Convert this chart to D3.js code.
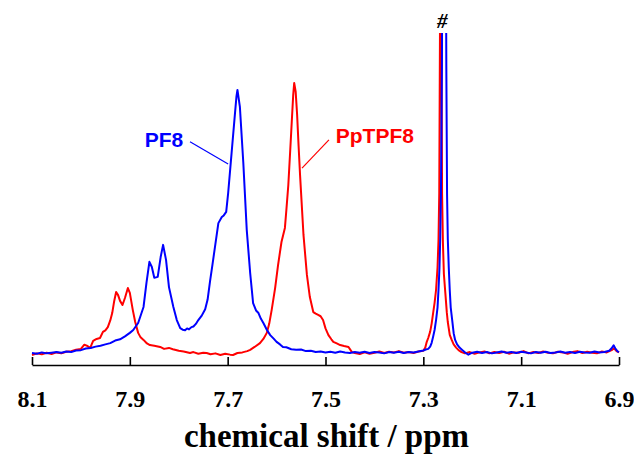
<!DOCTYPE html>
<html>
<head>
<meta charset="utf-8">
<script src="https://cdn.jsdelivr.net/npm/d3@7"></script>
<style>
  html, body { margin: 0; padding: 0; background: #fff; }
  svg { display: block; }
</style>
</head>
<body>
<svg id="chart" width="634" height="454"></svg>
<script>
// 1H NMR spectra (aromatic region), [chemical shift in ppm, intensity]
const pptpf8Spectrum = [
  [8.100,-0.3],[8.090,0.2],[8.080,-0.1],[8.070,0.4],[8.060,0.0],[8.050,0.5],[8.040,0.2],[8.030,0.7],
  [8.020,0.9],[8.010,1.3],[8.000,1.6],[7.993,2.9],[7.988,2.6],[7.981,1.9],[7.975,4.1],[7.968,4.7],
  [7.961,5.0],[7.955,6.9],[7.950,7.4],[7.945,8.4],[7.940,10.5],[7.936,12.8],[7.932,16.5],[7.928,19.4],
  [7.924,18.4],[7.920,16.6],[7.915,15.3],[7.910,17.5],[7.904,20.6],[7.900,19.1],[7.894,13.8],[7.889,10.0],
  [7.883,6.6],[7.878,5.2],[7.872,4.4],[7.865,3.3],[7.859,2.8],[7.850,2.6],[7.838,2.2],[7.830,1.6],
  [7.820,1.9],[7.812,1.5],[7.800,1.0],[7.790,0.8],[7.777,0.3],[7.770,0.6],[7.760,0.1],[7.750,0.4],
  [7.743,0.3],[7.735,-0.1],[7.725,0.2],[7.715,-0.3],[7.705,0.1],[7.695,-0.2],[7.689,-0.3],[7.680,0.3],
  [7.670,0.5],[7.660,0.9],[7.654,1.3],[7.645,2.2],[7.634,3.4],[7.627,4.7],[7.620,6.6],[7.615,9.5],
  [7.610,13.8],[7.603,20.6],[7.597,27.8],[7.590,35.0],[7.583,39.4],[7.580,45.0],[7.576,52.8],[7.572,64.0],
  [7.569,72.5],[7.566,81.0],[7.564,84.7],[7.561,82.0],[7.558,74.7],[7.555,65.0],[7.552,55.9],[7.545,37.2],
  [7.538,24.7],[7.532,17.8],[7.525,13.1],[7.520,12.6],[7.515,12.2],[7.510,11.8],[7.505,10.6],[7.500,8.0],
  [7.494,5.9],[7.488,4.6],[7.484,3.8],[7.477,3.3],[7.470,2.8],[7.462,2.5],[7.453,2.2],[7.446,0.6],
  [7.440,0.3],[7.430,0.0],[7.420,0.5],[7.410,0.1],[7.400,0.4],[7.390,0.8],[7.380,0.3],[7.370,0.7],
  [7.360,0.5],[7.350,0.9],[7.340,0.4],[7.330,0.6],[7.320,0.3],[7.310,0.8],[7.300,1.0],[7.296,2.0],
  [7.293,3.8],[7.290,5.0],[7.286,7.0],[7.283,9.5],[7.280,12.8],[7.277,16.0],[7.274,20.0],[7.271,27.0],
  [7.269,35.6],[7.2675,50],[7.266,100],[7.2646,400],[7.263,100],[7.2617,50],[7.260,35.0],[7.258,25.0],
  [7.255,19.0],[7.252,13.0],[7.250,10.0],[7.246,6.0],[7.242,4.4],[7.238,3.0],[7.233,2.0],[7.228,1.2],
  [7.222,0.6],[7.215,0.2],[7.205,0.6],[7.195,0.1],[7.185,0.5],[7.175,0.8],[7.165,0.2],[7.155,0.6],
  [7.145,0.3],[7.135,0.7],[7.125,0.1],[7.115,0.5],[7.105,0.4],[7.095,0.9],[7.085,0.2],[7.075,0.6],
  [7.065,0.3],[7.055,0.8],[7.045,0.4],[7.035,0.2],[7.025,0.7],[7.015,0.5],[7.005,0.1],[6.995,0.6],
  [6.985,0.9],[6.975,0.3],[6.965,0.7],[6.955,0.4],[6.945,0.2],[6.935,0.8],[6.925,0.5],[6.915,1.2],
  [6.910,1.8],[6.905,0.9],[6.900,0.5]
];

const pf8Spectrum = [
  [8.100,0.3],[8.090,0.1],[8.080,0.5],[8.070,0.2],[8.060,0.4],[8.050,0.6],[8.040,0.4],[8.030,0.8],
  [8.020,0.6],[8.010,1.1],[8.000,1.2],[7.990,1.7],[7.980,1.9],[7.970,2.3],[7.960,2.6],[7.950,3.0],
  [7.940,3.4],[7.930,4.2],[7.920,4.6],[7.910,5.5],[7.900,6.6],[7.893,7.5],[7.883,9.7],[7.872,14.7],
  [7.866,22.2],[7.860,28.8],[7.855,27.2],[7.850,23.8],[7.843,24.1],[7.837,30.3],[7.832,34.1],[7.826,29.4],
  [7.820,20.9],[7.811,14.7],[7.804,10.6],[7.797,8.1],[7.792,7.6],[7.787,7.4],[7.783,8.0],[7.779,7.7],
  [7.774,8.4],[7.770,8.6],[7.765,9.4],[7.760,10.6],[7.753,12.0],[7.746,14.0],[7.741,17.0],[7.736,22.8],
  [7.731,28.0],[7.726,33.4],[7.719,40.9],[7.712,42.8],[7.708,43.3],[7.703,44.4],[7.699,50.3],[7.692,62.8],
  [7.685,75.3],[7.682,80.5],[7.680,82.5],[7.675,77.2],[7.668,59.7],[7.661,38.8],[7.654,25.3],[7.648,15.9],
  [7.642,13.6],[7.637,12.8],[7.632,11.0],[7.627,9.7],[7.620,7.6],[7.613,5.9],[7.606,4.8],[7.600,3.8],
  [7.593,3.0],[7.587,2.2],[7.580,2.1],[7.570,1.5],[7.560,1.3],[7.550,1.4],[7.540,0.9],[7.530,1.0],
  [7.520,0.6],[7.510,0.8],[7.500,0.5],[7.490,0.7],[7.480,0.4],[7.470,0.8],[7.460,0.5],[7.450,0.3],
  [7.440,0.6],[7.430,0.4],[7.420,0.7],[7.410,0.3],[7.400,0.6],[7.390,0.5],[7.380,0.2],[7.370,0.6],
  [7.360,0.4],[7.350,0.7],[7.340,0.3],[7.330,0.6],[7.320,0.5],[7.310,0.8],[7.300,1.1],[7.295,1.4],
  [7.290,1.6],[7.286,2.3],[7.283,3.5],[7.280,5.4],[7.277,7.5],[7.274,10.6],[7.271,14.5],[7.269,20.0],
  [7.267,27.0],[7.2655,36],[7.264,50],[7.262,90],[7.260,180],[7.2575,400],[7.255,180],[7.253,90],
  [7.2515,50],[7.250,36.0],[7.248,27.0],[7.246,20.0],[7.244,14.5],[7.241,10.6],[7.238,6.5],[7.235,4.4],
  [7.231,3.0],[7.226,2.0],[7.220,1.2],[7.214,0.4],[7.208,-0.2],[7.200,0.4],[7.190,0.7],[7.180,0.3],
  [7.170,0.6],[7.160,0.2],[7.150,0.5],[7.140,0.8],[7.130,0.4],[7.120,0.6],[7.110,0.3],[7.100,0.7],
  [7.090,0.5],[7.080,0.2],[7.070,0.6],[7.060,0.4],[7.050,0.7],[7.040,0.3],[7.030,0.5],[7.020,0.8],
  [7.010,0.4],[7.000,0.6],[6.990,0.3],[6.980,0.7],[6.970,0.5],[6.960,0.4],[6.950,0.8],[6.940,0.5],
  [6.930,0.6],[6.920,1.0],[6.915,1.8],[6.911,2.7],[6.907,1.6],[6.903,0.8],[6.900,0.6]
];

const tickValues = [8.1, 7.9, 7.7, 7.5, 7.3, 7.1, 6.9];
const seriesNames = ["PF8", "PpTPF8"];
const seriesColors = ["#0000ff", "#ff0000"];
const axisTitle = "chemical shift / ppm";
const solventMark = "#";

const svg = d3.select("#chart");
const serifFont = "'Liberation Serif', 'Times New Roman', serif";
const labelFont = "'Liberation Sans', Arial, sans-serif";

// reversed ppm axis, as usual for NMR
const x = d3.scaleLinear().domain([8.1, 6.9]).range([32, 619]);
const y = d3.scaleLinear().domain([0, 100]).range([354, 34]);

svg.append("defs").append("clipPath").attr("id", "plotClip")
  .append("rect").attr("x", 0).attr("y", 33).attr("width", 634).attr("height", 340);

const line = d3.line().x(d => x(d[0])).y(d => y(d[1]));

const plot = svg.append("g").attr("clip-path", "url(#plotClip)");

plot.append("path").datum(pptpf8Spectrum)
  .attr("fill", "none").attr("stroke", seriesColors[1])
  .attr("stroke-width", 2).attr("stroke-linejoin", "round")
  .attr("d", line);

plot.append("path").datum(pf8Spectrum)
  .attr("fill", "none").attr("stroke", seriesColors[0])
  .attr("stroke-width", 2).attr("stroke-linejoin", "round")
  .attr("d", line);

// x axis with inward ticks
const axis = d3.axisBottom(x)
  .tickValues(tickValues)
  .tickFormat(d3.format(".1f"))
  .tickSizeInner(-8)
  .tickSizeOuter(0)
  .tickPadding(25);

const gx = svg.append("g").attr("transform", "translate(0,365)").call(axis)
  .attr("font-family", serifFont).attr("font-size", 24).attr("font-weight", "bold");
gx.select(".domain").attr("stroke", "#000").attr("stroke-width", 1.6);
gx.selectAll(".tick line").attr("stroke", "#000").attr("stroke-width", 1.6);
gx.selectAll(".tick text").attr("fill", "#000");

svg.append("text")
  .attr("x", 326.5).attr("y", 447)
  .attr("text-anchor", "middle")
  .attr("font-family", serifFont)
  .attr("font-weight", "bold")
  .attr("font-size", 33)
  .text(axisTitle);

// series labels with leader lines
svg.append("text")
  .attr("x", x(7.791)).attr("y", y(64.7))
  .attr("text-anchor", "end")
  .attr("fill", seriesColors[0])
  .attr("font-family", labelFont).attr("font-weight", "bold").attr("font-size", 21)
  .text(seriesNames[0]);
svg.append("line")
  .attr("x1", x(7.777)).attr("y1", y(66.3))
  .attr("x2", x(7.699)).attr("y2", y(59.4))
  .attr("stroke", seriesColors[0]).attr("stroke-width", 1.2);

svg.append("text")
  .attr("x", x(7.479)).attr("y", y(65.9))
  .attr("fill", seriesColors[1])
  .attr("font-family", labelFont).attr("font-weight", "bold").attr("font-size", 21)
  .text(seriesNames[1]);
svg.append("line")
  .attr("x1", x(7.493)).attr("y1", y(66.9))
  .attr("x2", x(7.548)).attr("y2", y(58.1))
  .attr("stroke", seriesColors[1]).attr("stroke-width", 1.2);

// residual solvent (CHCl3) peak marker
svg.append("text")
  .attr("x", x(7.2615)).attr("y", 28)
  .attr("text-anchor", "middle")
  .attr("font-family", serifFont)
  .attr("font-weight", "bold").attr("font-style", "italic")
  .attr("font-size", 21)
  .text(solventMark);
</script>
</body>
</html>
